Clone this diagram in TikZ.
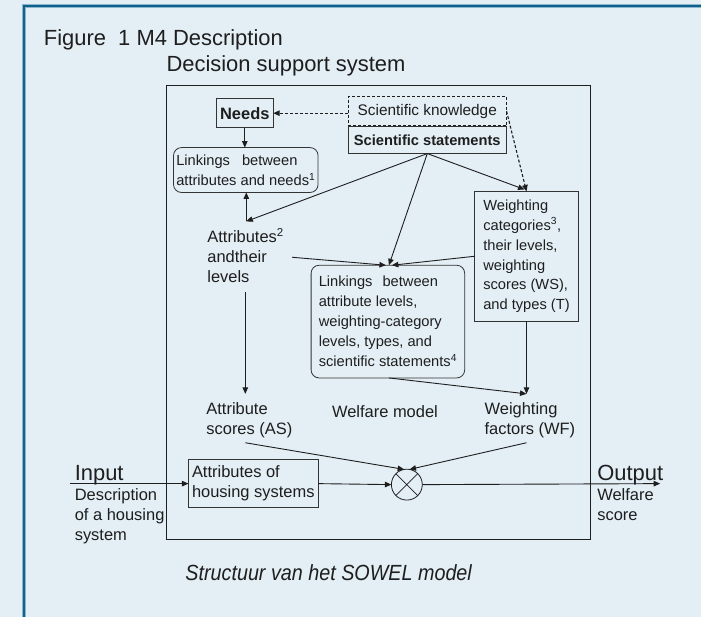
\documentclass[tikz,border=0pt]{standalone}
\usepackage{fontspec}
\setmainfont{Liberation Sans}
\usetikzlibrary{arrows.meta,calc}
\definecolor{bg}{HTML}{E3EEF5}
\definecolor{frameblue}{HTML}{0F618E}
\definecolor{framelight}{HTML}{8FB5CC}
\definecolor{ink}{HTML}{1E1E1E}
\definecolor{edge}{HTML}{333333}
\newcommand\mysup[1]{\textsuperscript{\smash{#1}}}
\begin{document}
\begin{tikzpicture}[x=1pt,y=-1pt,
  every node/.style={text=ink, inner sep=0pt, outer sep=0pt},
  fbig/.style={font=\fontsize{22}{24}\selectfont},
  fmid/.style={font=\fontsize{16.5}{20}\selectfont},
  fsmall/.style={font=\fontsize{14.7}{20}\selectfont},
  txt/.style={fmid, align=left, anchor=north west},
  boxed/.style={draw=edge, line width=0.8pt, align=left},
  rboxed/.style={boxed, rounded corners=8pt},
  arr/.style={draw=ink, line width=0.9pt, -{Triangle[length=6.5pt,width=5.5pt]}},
  dasharr/.style={arr, line width=1.1pt, dash pattern=on 3pt off 2pt},
]
% background and frame
\fill[bg] (0,0) rectangle (703,619);
\draw[framelight, line width=4pt] (24,619) -- (24,5.8) -- (703,5.8);
\draw[frameblue, line width=2pt] (24,619) -- (24,5.8) -- (703,5.8);
\useasboundingbox (0,0) rectangle (703,619);

% titles
\node[fbig, anchor=base west] (title) at (44,45.7) {Figure\ \ 1 M4 Description};
\node[fbig, anchor=base west] (dsstitle) at (167,72) {Decision support system};

% main box
\draw[ink, line width=0.9pt] (167,86) rectangle (592,541);

% top boxes
\node[boxed, font=\bfseries\fontsize{16.5}{20}\selectfont, minimum width=57pt, minimum height=29pt, align=center] (needs) at (245.5,113.5) {Needs};
\node[draw=ink, line width=0.8pt, dash pattern=on 3pt off 2pt, font=\fontsize{15.4}{20}\selectfont, minimum width=159pt, minimum height=29pt] (sk) at (428.5,111.5) {Scientific knowledge};
\node[boxed, font=\bfseries\fontsize{14.7}{20}\selectfont, minimum width=159pt, minimum height=27pt, align=center] (ss) at (428.5,140.5) {Scientific statements};

\node[rboxed, fsmall, minimum height=45pt, minimum width=145pt] (link1) at (246.5,170.5)
  {Linkings\hspace{12pt}between\\attributes and needs\mysup{1}};

\node[boxed, fsmall, minimum height=130pt, minimum width=104pt] (wc) at (528,257)
  {Weighting\\categories\mysup{3},\\their levels,\\weighting\\scores (WS),\\and types (T)};

\node[rboxed, fsmall, minimum height=113pt, minimum width=154pt] (link2) at (389,322.5)
  {Linkings\hspace{10pt}between\\attribute levels,\\weighting-category\\levels, types, and\\scientific statements\mysup{4}};

% attributes text
\node[txt] (attr) at (208,231.1) {Attributes\mysup{2}\\andtheir\\levels};
\coordinate (attrtop) at (247,222);
\coordinate (attrright) at (293,258);
\coordinate (attrbot) at (246,293);

% lower texts
\node[txt] (as) at (207,404.1) {Attribute\\scores (AS)};
\node[fmid, anchor=base west] (wm) at (333,419) {Welfare model};
\node[txt] (wf) at (486,404.1) {Weighting\\factors (WF)};
\coordinate (astop) at (246,395);
\coordinate (asbot) at (246,444);
\coordinate (wftop) at (528,395);
\coordinate (wfbot) at (528,444);

% bottom row
\node[boxed, fmid, minimum height=48pt, minimum width=130pt] (hb) at (254,485)
  {Attributes of\\housing systems};
\node[draw=ink, line width=0.8pt, circle, minimum size=31pt] (ot) at (408,486) {};
\draw[ink, line width=0.7pt] (ot.45) -- (ot.225) (ot.135) -- (ot.315);

\node[fbig, anchor=base west] (input) at (75,482) {Input};
\node[txt] (desc) at (75,490.1) {Description\\of a housing\\system};
\node[fbig, anchor=base west] (output) at (599,482) {Output};
\node[txt] (ws) at (599,490.1) {Welfare\\score};
\coordinate (inL) at (70,485);
\coordinate (outR) at (662,485);

% caption
\node[anchor=base west, font=\itshape\fontsize{22}{24}\selectfont] (cap) at (186,582) {\scalebox{0.9}[1]{Structuur van het SOWEL model}};

% connectors
\draw[dasharr] (sk.west |- needs) -- (needs.east);
\draw[dasharr] (sk.east) -- (wc.north);
\draw[arr] (needs.south) -- (link1.north -| needs.south);
\draw[arr] (ss.south) -- (attrtop);
\draw[arr] (ss.south) -- ($(link2.north)+(1,0)$);
\draw[arr] (ss.south) -- ($(wc.north)+(-2,-2)$);
\draw[arr] (attrtop) -- (attrtop |- link1.south);
\draw[arr] (attrright) -- ($(link2.north)+(-2,0)$);
\draw[arr] (wc.west) -- ($(link2.north)+(4,0)$);
\draw[arr] (attrbot) -- (astop);
\draw[arr] (wc.south) -- (wftop);
\draw[arr] ($(link2.south)+(1,0)$) -- (wftop);
\draw[arr] (asbot) -- (ot.100);
\draw[arr] (wfbot) -- (ot.80);
\draw[arr] (inL) -- (hb.west);
\draw[arr] (hb.east) -- (ot.west);
\draw[arr] (ot.east) -- (outR);
\end{tikzpicture}
\end{document}
